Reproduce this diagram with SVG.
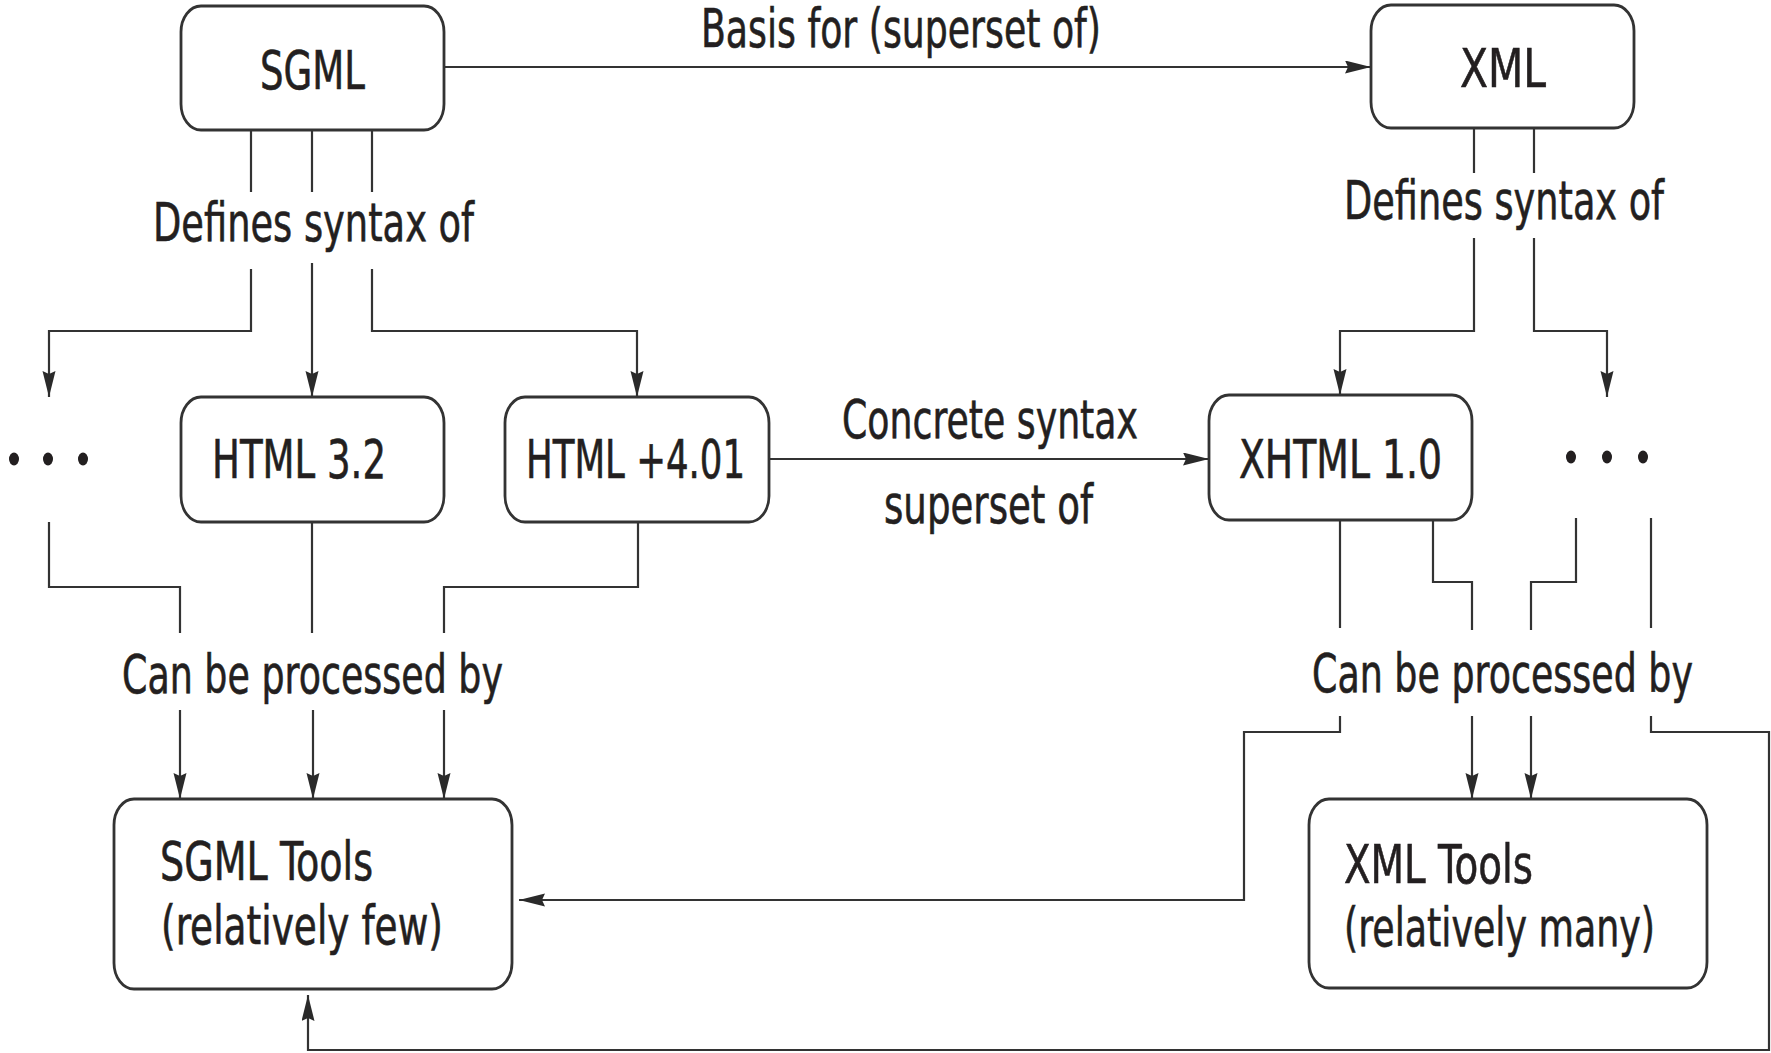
<svg xmlns="http://www.w3.org/2000/svg" width="1771" height="1053" viewBox="0 0 1771 1053">
  <style>
    .box { fill: #ffffff; stroke: #333333; stroke-width: 2.8; }
    .lbl { font-family: "Liberation Sans Narrow", "DejaVu Sans Condensed", "Liberation Sans", sans-serif; font-size: 54px; fill: #231f20; stroke: #231f20; stroke-width: 0.6; }
    .wire { fill: none; stroke: #333333; stroke-width: 2.2; }
    .arr { marker-end: url(#head); }
    .dot { fill: #231f20; }
  </style>
  <defs>
    <marker id="head" markerUnits="userSpaceOnUse" markerWidth="28" markerHeight="14" refX="26" refY="6.5" orient="auto">
      <path d="M0,0 L26,6.5 L0,13 L3,6.5 z" fill="#2a2a2a"/>
    </marker>
  </defs>

  <rect width="1771" height="1053" fill="#ffffff"/>

  <!-- connectors -->
  <g id="connectors">
    <!-- SGML basis for XML -->
    <path class="wire arr" d="M445,67 H1371"/>
    <text class="lbl" x="701" y="47" textLength="400" lengthAdjust="spacingAndGlyphs">Basis for (superset of)</text>

    <!-- SGML defines syntax of -->
    <path class="wire" d="M251,130 V192 M312,130 V192 M372,130 V192"/>
    <text class="lbl" x="153" y="241" textLength="321" lengthAdjust="spacingAndGlyphs">Defines syntax of</text>
    <path class="wire arr" d="M251,269 V331 H49 V397"/>
    <path class="wire arr" d="M312,263 V397"/>
    <path class="wire arr" d="M372,269 V331 H637 V397"/>

    <!-- XML defines syntax of -->
    <path class="wire" d="M1474,128 V173 M1534,128 V173"/>
    <text class="lbl" x="1344" y="219" textLength="320" lengthAdjust="spacingAndGlyphs">Defines syntax of</text>
    <path class="wire arr" d="M1474,238 V331 H1340 V395"/>
    <path class="wire arr" d="M1534,238 V331 H1607 V397"/>

    <!-- HTML +4.01 to XHTML 1.0 -->
    <path class="wire arr" d="M769,459 H1209"/>
    <text class="lbl" x="842" y="438" textLength="296" lengthAdjust="spacingAndGlyphs">Concrete syntax</text>
    <text class="lbl" x="884" y="523" textLength="209" lengthAdjust="spacingAndGlyphs">superset of</text>

    <!-- left family: can be processed by SGML tools -->
    <path class="wire" d="M49,522 V587 H180 V633"/>
    <path class="wire" d="M312,522 V633"/>
    <path class="wire" d="M638,522 V587 H444 V633"/>
    <text class="lbl" x="122" y="693" textLength="381" lengthAdjust="spacingAndGlyphs">Can be processed by</text>
    <path class="wire arr" d="M180,710 V799"/>
    <path class="wire arr" d="M313,710 V799"/>
    <path class="wire arr" d="M444,710 V799"/>

    <!-- right family: can be processed by XML tools (and SGML tools) -->
    <path class="wire" d="M1340,520 V628"/>
    <path class="wire" d="M1433,520 V582 H1472 V630"/>
    <path class="wire" d="M1576,518 V582 H1531 V630"/>
    <path class="wire" d="M1651,518 V628"/>
    <text class="lbl" x="1312" y="692" textLength="381" lengthAdjust="spacingAndGlyphs">Can be processed by</text>
    <path class="wire arr" d="M1340,716 V732 H1244 V900 H519"/>
    <path class="wire arr" d="M1472,716 V799"/>
    <path class="wire arr" d="M1531,716 V799"/>
    <path class="wire arr" d="M1651,716 V732 H1769 V1050 H308 V995"/>
  </g>

  <!-- nodes -->
  <g id="sgml">
    <rect class="box" x="181" y="6" width="263" height="124" rx="20" ry="26"/>
    <text class="lbl" x="260" y="89" textLength="105" lengthAdjust="spacingAndGlyphs">SGML</text>
  </g>
  <g id="xml">
    <rect class="box" x="1371" y="5" width="263" height="123" rx="20" ry="26"/>
    <text class="lbl" x="1460" y="87" textLength="86" lengthAdjust="spacingAndGlyphs">XML</text>
  </g>
  <g id="sgml-others">
    <ellipse class="dot" cx="14" cy="459" rx="5" ry="6.5"/>
    <ellipse class="dot" cx="48" cy="459" rx="5" ry="6.5"/>
    <ellipse class="dot" cx="83" cy="459" rx="5" ry="6.5"/>
  </g>
  <g id="html32">
    <rect class="box" x="181" y="397" width="263" height="125" rx="20" ry="26"/>
    <text class="lbl" x="212" y="478" textLength="174" lengthAdjust="spacingAndGlyphs">HTML 3.2</text>
  </g>
  <g id="html401">
    <rect class="box" x="505" y="397" width="264" height="125" rx="20" ry="26"/>
    <text class="lbl" x="526" y="478" textLength="219" lengthAdjust="spacingAndGlyphs">HTML +4.01</text>
  </g>
  <g id="xhtml10">
    <rect class="box" x="1209" y="395" width="263" height="125" rx="20" ry="26"/>
    <text class="lbl" x="1239" y="478" textLength="203" lengthAdjust="spacingAndGlyphs">XHTML 1.0</text>
  </g>
  <g id="xml-others">
    <ellipse class="dot" cx="1571" cy="457" rx="5" ry="6.5"/>
    <ellipse class="dot" cx="1607" cy="457" rx="5" ry="6.5"/>
    <ellipse class="dot" cx="1643" cy="457" rx="5" ry="6.5"/>
  </g>
  <g id="sgml-tools">
    <rect class="box" x="114" y="799" width="398" height="190" rx="20" ry="26"/>
    <text class="lbl" x="160" y="880" textLength="213" lengthAdjust="spacingAndGlyphs">SGML Tools</text>
    <text class="lbl" x="161" y="944" textLength="282" lengthAdjust="spacingAndGlyphs">(relatively few)</text>
  </g>
  <g id="xml-tools">
    <rect class="box" x="1309" y="799" width="398" height="189" rx="20" ry="26"/>
    <text class="lbl" x="1344" y="883" textLength="189" lengthAdjust="spacingAndGlyphs">XML Tools</text>
    <text class="lbl" x="1344" y="946" textLength="311" lengthAdjust="spacingAndGlyphs">(relatively many)</text>
  </g>
</svg>
